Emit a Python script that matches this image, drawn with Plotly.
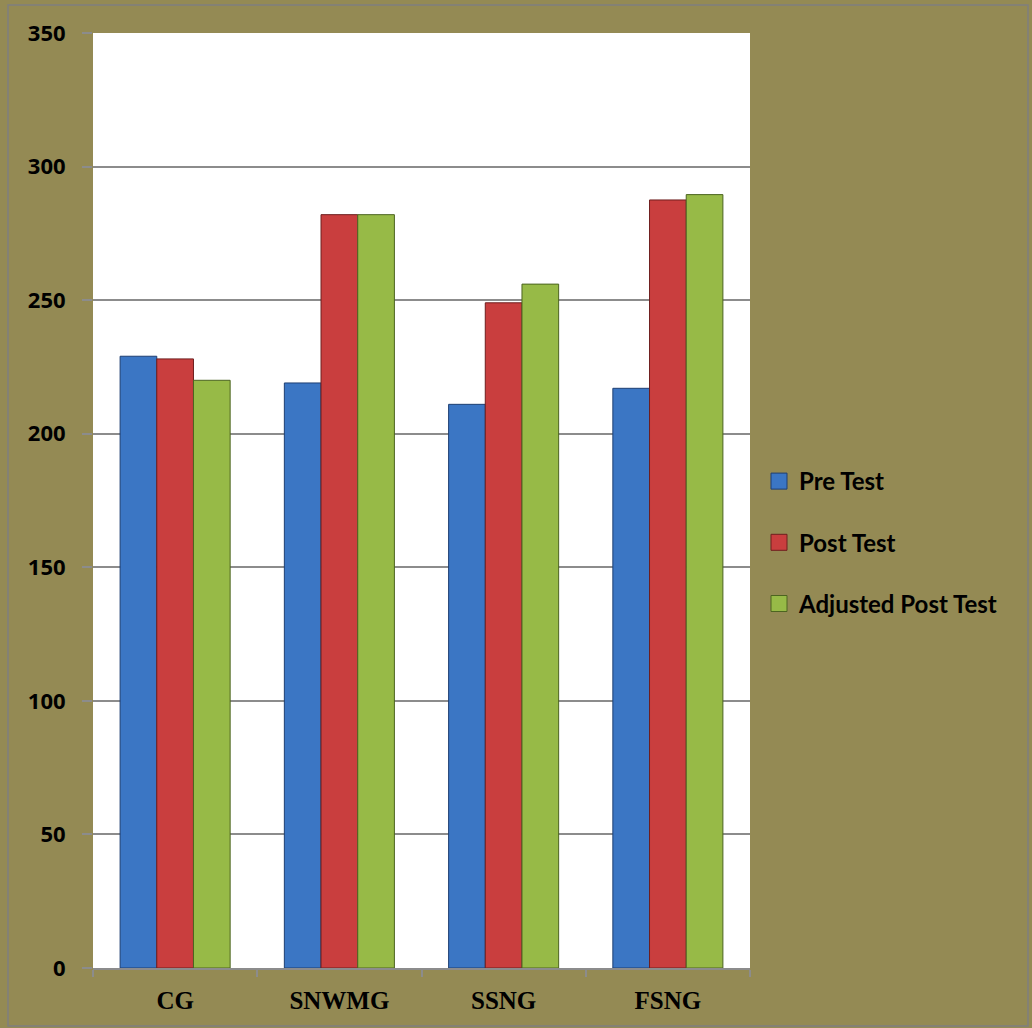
import plotly.graph_objects as go

categories = ["CG", "SNWMG", "SSNG", "FSNG"]
pre_test = [229, 219, 211, 217]
post_test = [228, 282, 249, 287.5]
adjusted_post_test = [220, 282, 256, 289.5]
y_ticks = [0, 50, 100, 150, 200, 250, 300, 350]

series = [
    ("Pre Test", pre_test, "#3B76C4", "#1E3F72"),
    ("Post Test", post_test, "#C93E3E", "#6E1E1E"),
    ("Adjusted Post Test", adjusted_post_test, "#97BA47", "#4C6420"),
]

W, H = 1032, 1028
L, R, T, B = 93, 750, 33, 968
pw, ph = R - L, B - T

def px_x(p):
    return (p - L) / pw

def px_y(p):
    return (B - p) / ph

fig = go.Figure()
for i, (name, vals, col, edge) in enumerate(series):
    fig.add_trace(go.Bar(
        x=categories, y=vals, name=name, showlegend=False,
        marker=dict(color=col, line=dict(color=edge, width=1)),
    ))
for i, (name, vals, col, edge) in enumerate(series):
    fig.add_trace(go.Scatter(
        x=[None], y=[None], mode="markers", name=name, legendgroup=name,
        marker=dict(symbol="square", size=16, color=col, line=dict(color=edge, width=1)),
    ))

fig.update_layout(
    width=W, height=H,
    margin=dict(l=L, r=W - R, t=T, b=H - B),
    paper_bgcolor="#948A54",
    plot_bgcolor="#FFFFFF",
    barmode="group", bargap=0.33, bargroupgap=0,
    showlegend=True,
    legend=dict(
        x=px_x(759), xanchor="left", y=px_y(459), yanchor="top",
        bgcolor="rgba(0,0,0,0)", traceorder="grouped", tracegroupgap=27,
        font=dict(family="Lato", size=24, color="#000000", weight="bold"),
        itemwidth=30,
    ),
    xaxis=dict(
        showgrid=False, showline=True, linecolor="#8C8C8C", linewidth=1.5,
        ticks="outside", tickson="boundaries", ticklen=7, tickcolor="#8C8C8C", tickwidth=1.5,
        tickfont=dict(family="Liberation Serif", size=25, color="#000000", weight="bold"),
        ticklabelstandoff=9,
    ),
    yaxis=dict(
        range=[0, 350], tickvals=y_ticks, showgrid=True, gridcolor="#8C8C8C", gridwidth=1.5,
        zeroline=False, showline=False,
        ticks="outside", ticklen=10, tickcolor="#8C8C8C", tickwidth=1.5,
        tickfont=dict(family="Open Sans", size=22, color="#000000", weight="bold"),
        ticklabelstandoff=12,
    ),
    shapes=[dict(
        type="rect", xref="paper", yref="paper",
        x0=px_x(8), x1=px_x(1028), y0=px_y(1026), y1=px_y(5),
        line=dict(color="#7F7F7F", width=1.5), fillcolor="rgba(0,0,0,0)", layer="below",
    )],
)

fig.write_html("out.html")
